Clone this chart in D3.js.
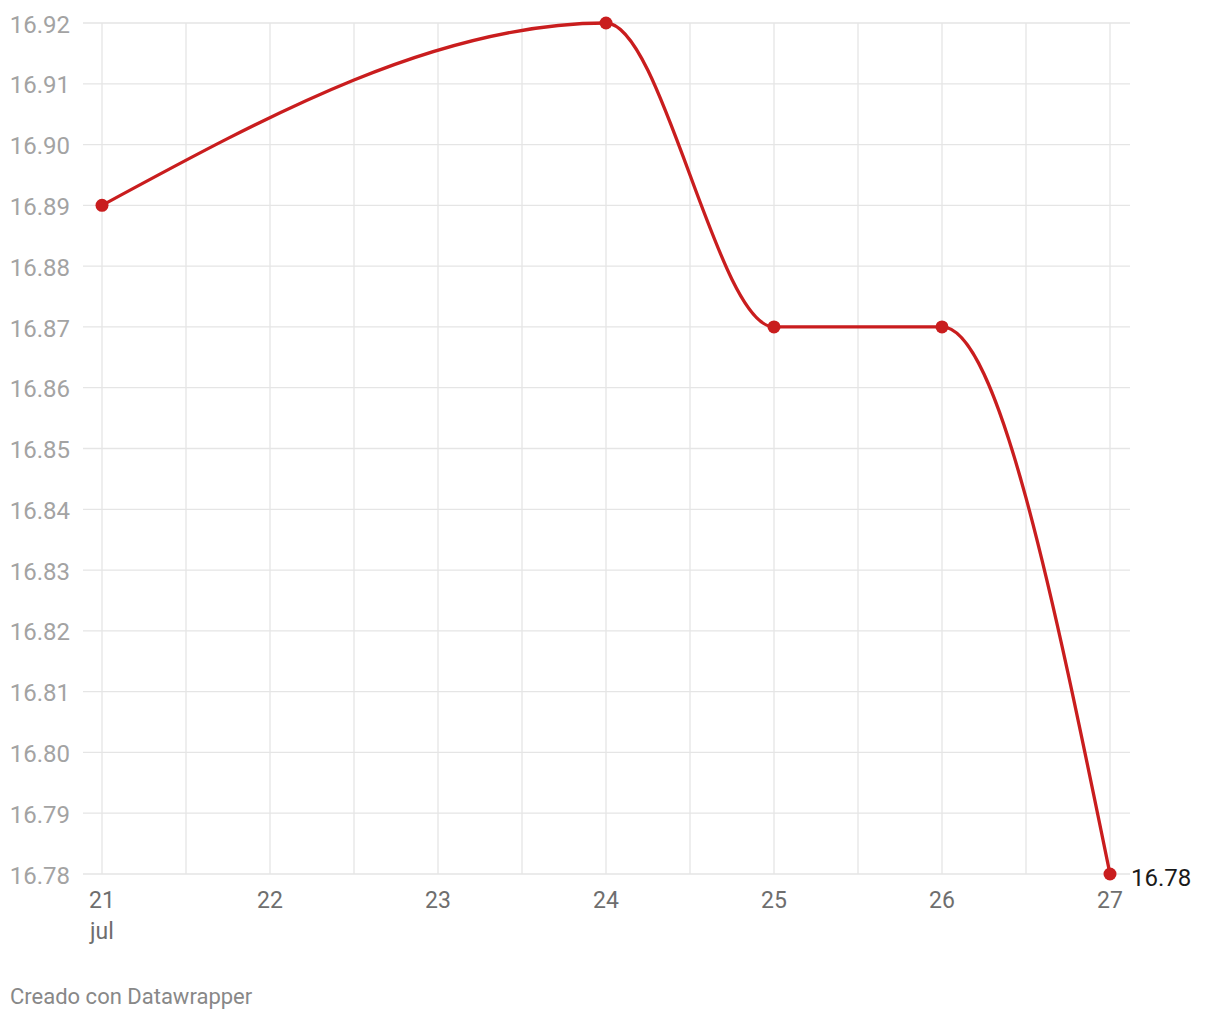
<!DOCTYPE html>
<html><head><meta charset="utf-8">
<script src="https://cdn.jsdelivr.net/npm/d3@7"></script>
<style>body{margin:0;background:#fff;font-family:Roboto,sans-serif;}</style>
</head><body>
<svg id="c" width="1220" height="1020"></svg>
<script>
const days = [21, 24, 25, 26, 27];
const values = [16.89, 16.92, 16.87, 16.87, 16.78];
const yTicks = [16.78,16.79,16.80,16.81,16.82,16.83,16.84,16.85,16.86,16.87,16.88,16.89,16.90,16.91,16.92];
const xTicks = [21,22,23,24,25,26,27];
const xGrid = [21,21.5,22,22.5,23,23.5,24,24.5,25,25.5,26,26.5,27];
const monthLabel = "jul";
const lastLabel = "16.78";
const footer = "Creado con Datawrapper";

const svg = d3.select("#c");
const x = d3.scaleLinear().domain([21,27]).range([102,1110]);
const y = d3.scaleLinear().domain([16.78,16.92]).range([874,23]);

const g = svg.append("g");
g.selectAll("line.h").data(yTicks).join("line")
  .attr("x1",83).attr("x2",1130)
  .attr("y1",d=>y(d)).attr("y2",d=>y(d))
  .attr("stroke","#e5e5e5").attr("stroke-width",1.3);
g.selectAll("line.v").data(xGrid).join("line")
  .attr("x1",d=>x(d)).attr("x2",d=>x(d))
  .attr("y1",y(16.92)).attr("y2",y(16.78))
  .attr("stroke","#e5e5e5").attr("stroke-width",1.3);

g.selectAll("text.yl").data(yTicks).join("text")
  .attr("x",70).attr("y",d=>y(d)).attr("dy","0.4em")
  .attr("text-anchor","end").attr("font-size",24).attr("fill","#a3a3a3")
  .text(d=>d3.format(".2f")(d));

g.selectAll("text.xl").data(xTicks).join("text")
  .attr("x",d=>x(d)).attr("y",908)
  .attr("text-anchor","middle").attr("font-size",23).attr("fill","#6e6e6e")
  .text(d=>d);
g.append("text").attr("x",x(21)).attr("y",939).attr("text-anchor","middle")
  .attr("font-size",23).attr("fill","#6e6e6e").text(monthLabel);

const data = days.map((d,i)=>({d, v: values[i]}));
const line = d3.line().x(p=>x(p.d)).y(p=>y(p.v)).curve(d3.curveMonotoneX);
g.append("path").datum(data).attr("d",line)
  .attr("fill","none").attr("stroke","#c91d1e").attr("stroke-width",3.3);
g.selectAll("circle").data(data).join("circle")
  .attr("cx",p=>x(p.d)).attr("cy",p=>y(p.v)).attr("r",6.5).attr("fill","#c91d1e");

g.append("text").attr("x",x(27)+21).attr("y",y(16.78)).attr("dy","0.5em")
  .attr("font-size",24).attr("fill","#1a1a1a").text(lastLabel);

svg.append("text").attr("x",10).attr("y",1004).attr("font-size",22).attr("fill","#888").text(footer);
</script>
</body></html>
